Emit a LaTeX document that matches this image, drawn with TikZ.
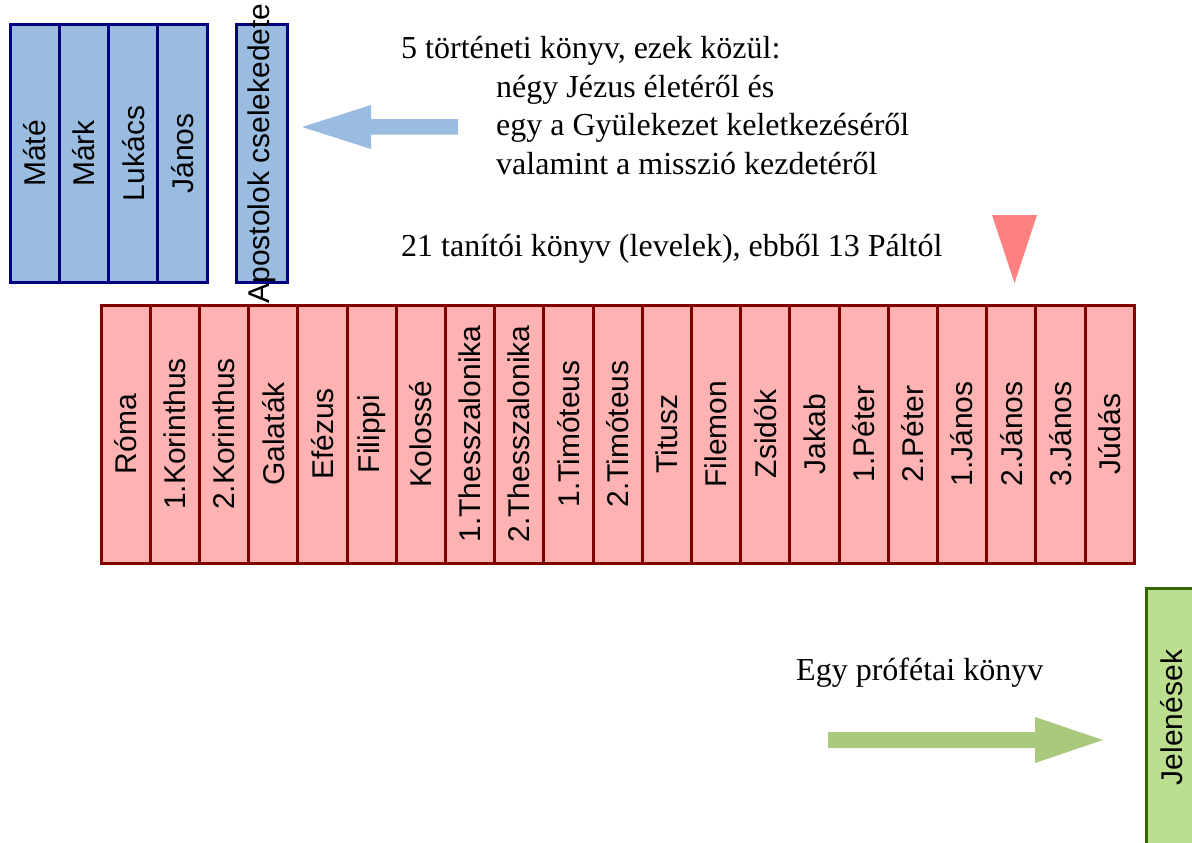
\documentclass[tikz,border=0pt]{standalone}
\usepackage{fontspec}
\setmainfont{Liberation Serif}
\setsansfont{Liberation Sans}
\usepackage{xcolor}
\definecolor{evfill}{HTML}{99BCE0}
\definecolor{evline}{HTML}{000080}
\definecolor{levfill}{HTML}{FFB2B2}
\definecolor{levline}{HTML}{800000}
\definecolor{jelfill}{HTML}{BCDE8F}
\definecolor{jelline}{HTML}{336600}
\definecolor{evarrow}{HTML}{99BCE0}
\definecolor{levarrow}{HTML}{FF8080}
\definecolor{jelarrow}{HTML}{A9C97E}

\begin{document}
\begin{tikzpicture}[x=1pt,y=-1pt,inner sep=0pt]
\tikzset{book/.style={draw,line width=3pt,minimum width=49.2pt,minimum height=258pt}}
\tikzset{booktitle/.style={rotate=90,font=\sffamily\fontsize{30}{36}\selectfont}}
\tikzset{note/.style={anchor=base west,font=\fontsize{32}{38}\selectfont}}
\useasboundingbox (0,0) rectangle (1192,843);
% evangeliumok es apostolok
\foreach \name [count=\i] in {Máté,Márk,Lukács,János}
  \node[book,draw=evline,fill=evfill,label={[booktitle]center:\name}] (ev\i) at (10+49.25*\i-24.6,153.5) {};
\node[book,draw=evline,fill=evfill,minimum width=51pt,label={[booktitle]center:Apostolok cselekedete}] (ap) at (261.5,153.5) {};
% levelek
\foreach \name [count=\i] in {Róma,1.Korinthus,2.Korinthus,Galaták,Efézus,Filippi,Kolossé,1.Thesszalonika,2.Thesszalonika,1.Timóteus,2.Timóteus,Titusz,Filemon,Zsidók,Jakab,1.Péter,2.Péter,1.János,2.János,3.János,Júdás}
  \node[book,draw=levline,fill=levfill,label={[booktitle]center:\name}] (lev\i) at (101+49.2*\i-24.6,434) {};
% prófétai
\node[book,draw=jelline,fill=jelfill,label={[booktitle]center:Jelenések}] (jel) at (1171.5,717.5) {};
% szovegek
\node[note] (tort) at (401,59) {5 történeti könyv, ezek közül:};
\node[note] (tort1) at (496,97.4) {négy Jézus életéről és};
\node[note] (tort2) at (496,135.8) {egy a Gyülekezet keletkezéséről};
\node[note] (tort3) at (496,174.2) {valamint a misszió kezdetéről};
\node[note] (tan) at (401,256) {21 tanítói könyv (levelek), ebből 13 Páltól};
\node[note] (prof) at (796,680) {Egy prófétai könyv};
% nyilak
\fill[evarrow] (458,119) -- (371,119) -- (371,105) -- (302,127) -- (371,149) -- (371,134.5) -- (458,134.5) -- cycle;
\fill[levarrow] (992,215) -- (1037,215) -- (1014.5,283) -- cycle;
\fill[jelarrow] (828,732) -- (1035,732) -- (1035,717) -- (1103,740) -- (1035,763) -- (1035,748) -- (828,748) -- cycle;
\end{tikzpicture}
\end{document}
